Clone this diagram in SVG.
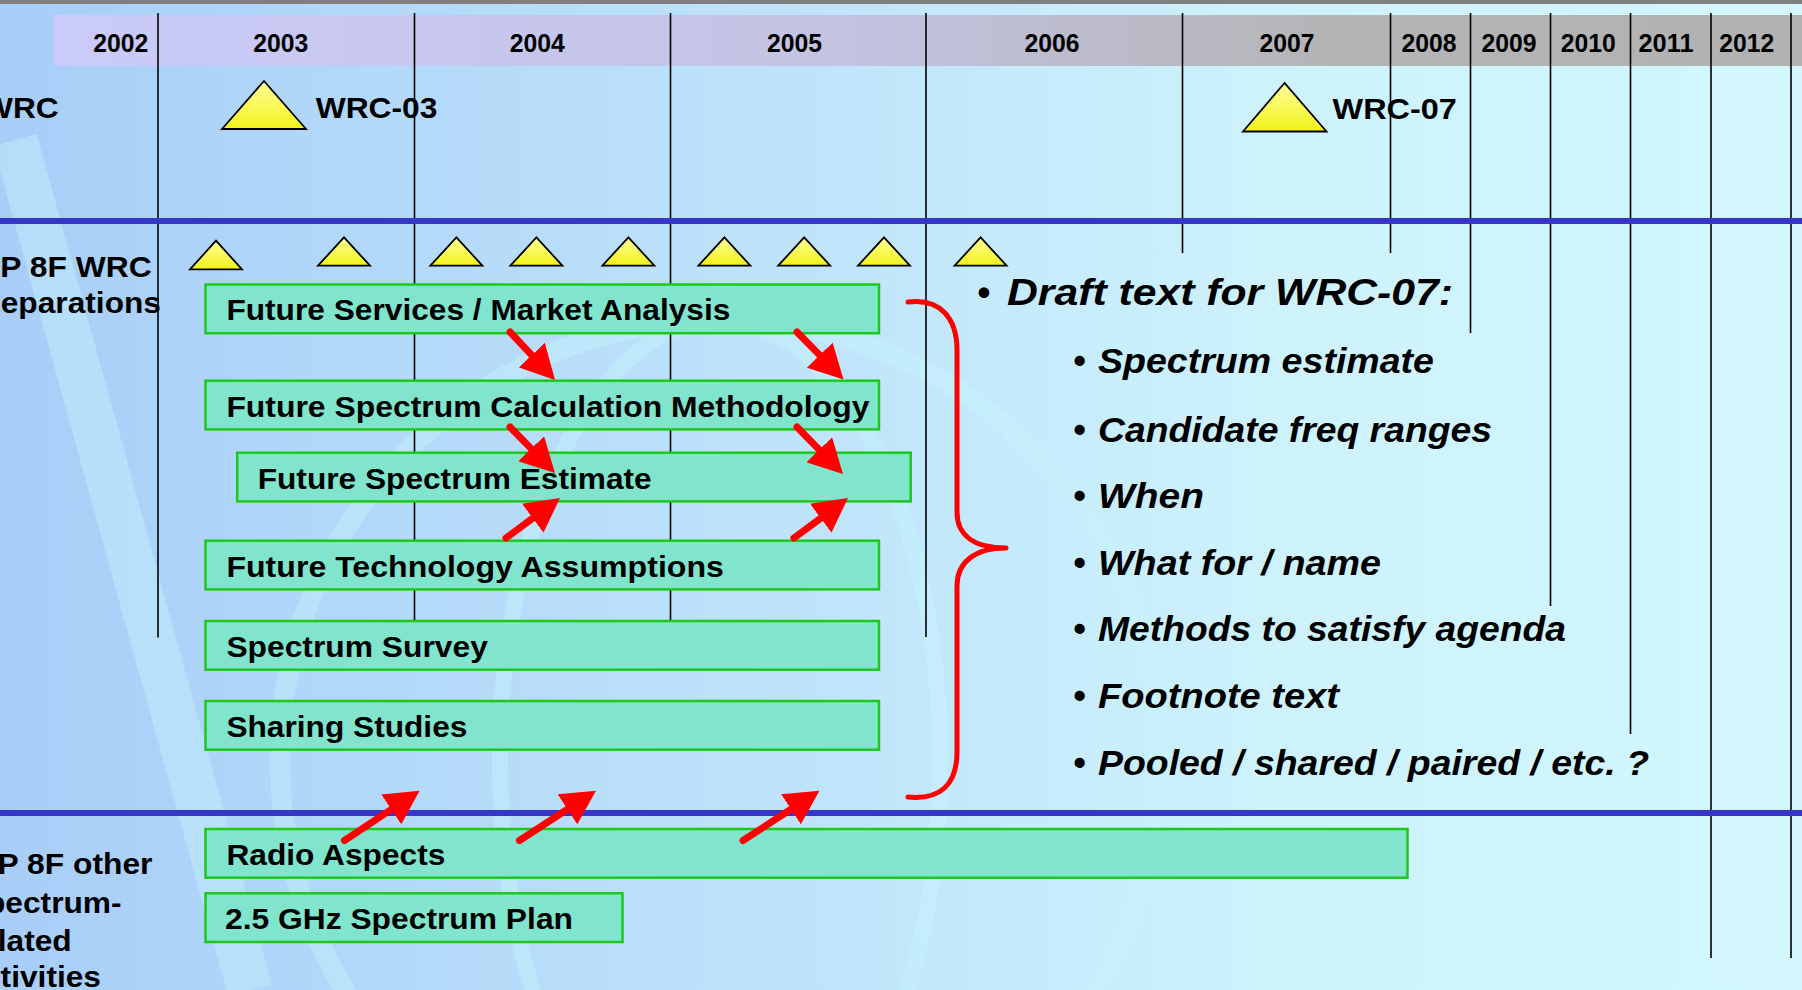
<svg xmlns="http://www.w3.org/2000/svg" width="1802" height="990" viewBox="0 0 1802 990">
<defs>
<linearGradient id="bg" x1="0" y1="0" x2="1" y2="0">
<stop offset="0" stop-color="#a8cef8"/>
<stop offset="0.45" stop-color="#bfe4fa"/>
<stop offset="0.7" stop-color="#cdf2fc"/>
<stop offset="1" stop-color="#d3f7fd"/>
</linearGradient>
<linearGradient id="hdr" x1="0" y1="0" x2="1" y2="0">
<stop offset="0" stop-color="#cbcbfb"/>
<stop offset="0.45" stop-color="#c3c3e2"/>
<stop offset="0.72" stop-color="#b5b5b8"/>
<stop offset="1" stop-color="#b2b2b2"/>
</linearGradient>
<linearGradient id="tri" x1="0" y1="0" x2="0" y2="1">
<stop offset="0" stop-color="#ffff9a"/>
<stop offset="1" stop-color="#f2f21a"/>
</linearGradient>
<marker id="ah" markerUnits="userSpaceOnUse" markerWidth="34" markerHeight="36" viewBox="0 0 34 36" refX="1" refY="18" orient="auto">
<path d="M0,0 L34,18 L0,36 z" fill="#ff0000"/>
</marker>
<style>
.vl{stroke:#000;stroke-width:1.6}
.hl{stroke:#3636c8;stroke-width:6}
.tri{fill:url(#tri);stroke:#000;stroke-width:1.8}
.box rect{fill:#80e5cc;stroke:#1dc81d;stroke-width:2.5}
.t{font-family:"Liberation Sans",Arial,sans-serif;font-weight:bold;fill:#000}
.bt{font-size:29px}
.yr{font-size:26px}
.lab{font-size:30px}
.it{font-style:italic}
.b1{font-size:37px}
.b2{font-size:35.5px}
.arr{stroke:#ff0000;stroke-width:7;stroke-linecap:round;fill:none;marker-end:url(#ah)}
.brace{stroke:#ff0000;stroke-width:5;fill:none;stroke-linecap:round;stroke-linejoin:round}
</style>
</defs>

<rect x="0" y="0" width="1802" height="990" fill="url(#bg)"/>
<g id="watermark" fill="none" stroke="#c8f6fd" opacity="0.4">
<path d="M15,140 L250,990" stroke-width="45"/>
<circle cx="720" cy="760" r="440" stroke-width="20"/>
<ellipse cx="720" cy="760" rx="220" ry="440" stroke-width="16"/>
</g>
<rect x="0" y="0" width="1802" height="4" fill="#7f7f7f"/>
<rect x="54" y="15" width="1748" height="51" fill="url(#hdr)"/>

<g id="years" class="t yr">
<text x="93.3" y="52.3" textLength="55" lengthAdjust="spacingAndGlyphs">2002</text>
<text x="253.2" y="52.3" textLength="55" lengthAdjust="spacingAndGlyphs">2003</text>
<text x="509.8" y="52.3" textLength="55" lengthAdjust="spacingAndGlyphs">2004</text>
<text x="766.9" y="52.3" textLength="55" lengthAdjust="spacingAndGlyphs">2005</text>
<text x="1024.4" y="52.3" textLength="55" lengthAdjust="spacingAndGlyphs">2006</text>
<text x="1259.4" y="52.3" textLength="55" lengthAdjust="spacingAndGlyphs">2007</text>
<text x="1401.5" y="52.3" textLength="55" lengthAdjust="spacingAndGlyphs">2008</text>
<text x="1481.4" y="52.3" textLength="55" lengthAdjust="spacingAndGlyphs">2009</text>
<text x="1560.8" y="52.3" textLength="55" lengthAdjust="spacingAndGlyphs">2010</text>
<text x="1638.5" y="52.3" textLength="55" lengthAdjust="spacingAndGlyphs">2011</text>
<text x="1719.3" y="52.3" textLength="55" lengthAdjust="spacingAndGlyphs">2012</text>
</g>

<g id="gridlines">
<line class="vl" x1="158" y1="13" x2="158" y2="637.5"/>
<line class="vl" x1="414.5" y1="13" x2="414.5" y2="640"/>
<line class="vl" x1="670.5" y1="13" x2="670.5" y2="640"/>
<line class="vl" x1="926" y1="13" x2="926" y2="637"/>
<line class="vl" x1="1182.5" y1="13" x2="1182.5" y2="253"/>
<line class="vl" x1="1390.5" y1="13" x2="1390.5" y2="253"/>
<line class="vl" x1="1470.5" y1="13" x2="1470.5" y2="333"/>
<line class="vl" x1="1550.5" y1="13" x2="1550.5" y2="606"/>
<line class="vl" x1="1630.5" y1="13" x2="1630.5" y2="734"/>
<line class="vl" x1="1711" y1="13" x2="1711" y2="958"/>
<line class="vl" x1="1791" y1="13" x2="1791" y2="958"/>
<line class="hl" x1="0" y1="221" x2="1802" y2="221"/>
<line class="hl" x1="0" y1="813" x2="1802" y2="813"/>
</g>

<g id="row-labels" class="t lab">
<text x="-17" y="117.5" textLength="75.7" lengthAdjust="spacingAndGlyphs">WRC</text>
<text x="0.2" y="276.5" textLength="151.5" lengthAdjust="spacingAndGlyphs">P 8F WRC</text>
<text x="0.7" y="313" textLength="160.3" lengthAdjust="spacingAndGlyphs">eparations</text>
<text x="-2.5" y="874" textLength="155" lengthAdjust="spacingAndGlyphs">P 8F other</text>
<text x="-14" y="913" textLength="135.6" lengthAdjust="spacingAndGlyphs">pectrum-</text>
<text x="-2.3" y="951" textLength="74" lengthAdjust="spacingAndGlyphs">lated</text>
<text x="-17" y="987" textLength="118" lengthAdjust="spacingAndGlyphs">ctivities</text>
</g>

<g id="wrc03">
<polygon class="tri" points="264,81 222,129 306,129"/>
<text class="t lab" x="315.7" y="117.5" textLength="121.7" lengthAdjust="spacingAndGlyphs">WRC-03</text>
</g>
<g id="wrc07">
<polygon class="tri" points="1284.5,83 1243,131.5 1326.5,131.5"/>
<text class="t lab" x="1332.6" y="119.3" textLength="124.3" lengthAdjust="spacingAndGlyphs">WRC-07</text>
</g>

<g id="meetings">
<polygon class="tri" points="216,240.7 190,269.3 242,269.3"/>
<polygon class="tri" points="344,237.3 318,265.7 370,265.7"/>
<polygon class="tri" points="456.4,237.3 430.4,265.7 482.4,265.7"/>
<polygon class="tri" points="536.4,237.3 510.4,265.7 562.4,265.7"/>
<polygon class="tri" points="628.4,237.3 602.4,265.7 654.4,265.7"/>
<polygon class="tri" points="724.4,237.3 698.4,265.7 750.4,265.7"/>
<polygon class="tri" points="804.2,237.3 778.2,265.7 830.2,265.7"/>
<polygon class="tri" points="884,237.3 858,265.7 910,265.7"/>
<polygon class="tri" points="980.6,237.3 954.6,265.7 1006.6,265.7"/>
</g>

<g id="box-fsma" class="box">
<rect x="205.5" y="284.5" width="673.5" height="48.7"/>
<text class="t bt" x="226.4" y="320.4" textLength="504" lengthAdjust="spacingAndGlyphs">Future Services / Market Analysis</text>
</g>
<g id="box-fscm" class="box">
<rect x="205.5" y="380.7" width="673.5" height="48.7"/>
<text class="t bt" x="226.4" y="416.8" textLength="643" lengthAdjust="spacingAndGlyphs">Future Spectrum Calculation Methodology</text>
</g>
<g id="box-fse" class="box">
<rect x="237.2" y="452.7" width="673.5" height="48.7"/>
<text class="t bt" x="257.7" y="489" textLength="394" lengthAdjust="spacingAndGlyphs">Future Spectrum Estimate</text>
</g>
<g id="box-fta" class="box">
<rect x="205.5" y="540.7" width="673.5" height="48.7"/>
<text class="t bt" x="226.4" y="577" textLength="497.5" lengthAdjust="spacingAndGlyphs">Future Technology Assumptions</text>
</g>
<g id="box-survey" class="box">
<rect x="205.5" y="621" width="673.5" height="48.7"/>
<text class="t bt" x="226.4" y="657" textLength="261.5" lengthAdjust="spacingAndGlyphs">Spectrum Survey</text>
</g>
<g id="box-sharing" class="box">
<rect x="205.5" y="701" width="673.5" height="48.7"/>
<text class="t bt" x="226.4" y="737" textLength="241" lengthAdjust="spacingAndGlyphs">Sharing Studies</text>
</g>
<g id="box-radio" class="box">
<rect x="205.5" y="829" width="1202" height="48.7"/>
<text class="t bt" x="226.4" y="865" textLength="219" lengthAdjust="spacingAndGlyphs">Radio Aspects</text>
</g>
<g id="box-25ghz" class="box">
<rect x="205.5" y="893.3" width="417" height="48.7"/>
<text class="t bt" x="225" y="929" textLength="348" lengthAdjust="spacingAndGlyphs">2.5 GHz Spectrum Plan</text>
</g>

<g id="connectors">
<line class="arr" x1="510" y1="332" x2="532.4" y2="355.9"/>
<line class="arr" x1="797" y1="332" x2="820.4" y2="355.9"/>
<line class="arr" x1="510" y1="427" x2="531.9" y2="449.4"/>
<line class="arr" x1="797" y1="427" x2="819.9" y2="450.4"/>
<line class="arr" x1="506" y1="538" x2="533.5" y2="517.6"/>
<line class="arr" x1="794" y1="538" x2="821.5" y2="517.6"/>
<line class="arr" x1="344.5" y1="840.5" x2="392.1" y2="808.9"/>
<line class="arr" x1="519.5" y1="840.5" x2="568.3" y2="808.7"/>
<line class="arr" x1="743" y1="840.5" x2="791.8" y2="808.7"/>
<path class="brace" d="M908,302 C940,298 957,318 957,350 L957,512 C957,536 975,548 1006,548 C975,548 957,562 957,586 L957,752 C957,785 940,800 908,797"/>
</g>

<g id="draft-list" class="t it">
<text class="b1" y="305"><tspan x="977">•</tspan><tspan x="1007" textLength="446" lengthAdjust="spacingAndGlyphs">Draft text for WRC-07:</tspan></text>
<text class="b2" y="372.5"><tspan x="1073">•</tspan><tspan x="1098" textLength="336" lengthAdjust="spacingAndGlyphs">Spectrum estimate</tspan></text>
<text class="b2" y="441.5"><tspan x="1073">•</tspan><tspan x="1098" textLength="394" lengthAdjust="spacingAndGlyphs">Candidate freq ranges</tspan></text>
<text class="b2" y="507.5"><tspan x="1073">•</tspan><tspan x="1098" textLength="106" lengthAdjust="spacingAndGlyphs">When</tspan></text>
<text class="b2" y="575"><tspan x="1073">•</tspan><tspan x="1098" textLength="283" lengthAdjust="spacingAndGlyphs">What for / name</tspan></text>
<text class="b2" y="640.7"><tspan x="1073">•</tspan><tspan x="1098" textLength="468" lengthAdjust="spacingAndGlyphs">Methods to satisfy agenda</tspan></text>
<text class="b2" y="708.3"><tspan x="1073">•</tspan><tspan x="1098" textLength="241" lengthAdjust="spacingAndGlyphs">Footnote text</tspan></text>
<text class="b2" y="775"><tspan x="1073">•</tspan><tspan x="1098" textLength="551" lengthAdjust="spacingAndGlyphs">Pooled / shared / paired / etc. ?</tspan></text>
</g>
</svg>
